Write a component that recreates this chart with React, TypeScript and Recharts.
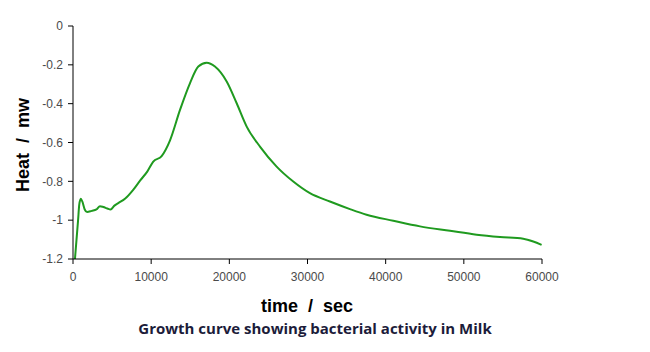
import React from "react";
import { LineChart, Line, XAxis, YAxis } from "recharts";

const timeSec = [250, 450, 650, 800, 1000, 1200, 1500, 1800, 2400, 3000, 3450, 3880, 4400, 4800, 5300, 5800, 6650, 7700, 8600, 9500, 10270, 11340, 12400, 13690, 14960, 16030, 17100, 18160, 19660, 20940, 22220, 23920, 26050, 28180, 30310, 32870, 35430, 37560, 40970, 44390, 48230, 51640, 54620, 57600, 58880, 59950];
const heatMw = [-1.2, -1.1, -1.0, -0.92, -0.89, -0.905, -0.945, -0.958, -0.952, -0.945, -0.928, -0.932, -0.94, -0.945, -0.925, -0.912, -0.89, -0.844, -0.795, -0.75, -0.698, -0.67, -0.59, -0.432, -0.295, -0.209, -0.189, -0.209, -0.286, -0.398, -0.518, -0.621, -0.724, -0.801, -0.861, -0.904, -0.943, -0.972, -1.003, -1.032, -1.055, -1.075, -1.087, -1.096, -1.11, -1.127];
const xTicks = [0, 10000, 20000, 30000, 40000, 50000, 60000];
const yTicks = [-1.2, -1, -0.8, -0.6, -0.4, -0.2, 0];

const data = timeSec.map((t, i) => ({ t, h: heatMw[i] }));

const tickStyle = { fill: "#4a4a4a", fontSize: 12, fontFamily: "Liberation Sans, Arial, sans-serif" };

export default function App() {
  return (
    <div style={{ position: "absolute", left: 0, top: 0, width: 650, height: 352, background: "#fff" }}>
      <LineChart width={650} height={352} data={data} margin={{ top: 26, right: 108, left: 13, bottom: 63 }}>
        <XAxis
          dataKey="t"
          type="number"
          domain={[0, 60000]}
          ticks={xTicks}
          height={30}
          tick={tickStyle}
          tickSize={5}
          tickMargin={8}
          stroke="#000"
          interval={0}
        />
        <YAxis
          type="number"
          domain={[-1.2, 0]}
          ticks={yTicks}
          width={60}
          tick={tickStyle}
          tickSize={5}
          tickMargin={5}
          stroke="#000"
          interval={0}
          allowDataOverflow
        />
        <Line type="monotone" dataKey="h" stroke="#1f9a1f" strokeWidth={2} dot={false} isAnimationActive={false} />
      </LineChart>
      <div style={{ position: "absolute", left: 23, top: 145, transform: "translate(-50%, -50%) rotate(-90deg)", whiteSpace: "pre", fontFamily: "Liberation Sans, Arial, sans-serif", fontWeight: "bold", fontSize: 18, color: "#000" }}>
        {"Heat  /  mw"}
      </div>
      <div style={{ position: "absolute", left: 307, top: 306, transform: "translate(-50%, -50%)", whiteSpace: "pre", fontFamily: "Liberation Sans, Arial, sans-serif", fontWeight: "bold", fontSize: 18, color: "#000" }}>
        {"time  /  sec"}
      </div>
      <div style={{ position: "absolute", left: 315, top: 328, transform: "translate(-50%, -50%)", whiteSpace: "pre", fontFamily: "Open Sans, sans-serif", fontWeight: "bold", fontSize: 15, color: "#1c1c3a" }}>
        Growth curve showing bacterial activity in Milk
      </div>
    </div>
  );
}
